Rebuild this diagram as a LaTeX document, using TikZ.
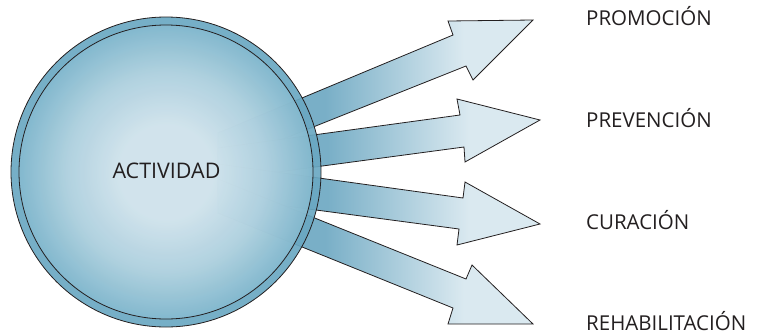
\documentclass[tikz,border=0pt]{standalone}
\usepackage{fontspec}
\setmainfont{Open Sans}
\definecolor{ringblue}{HTML}{6AA8C2}
\definecolor{ballc}{HTML}{E0EDF3}
\definecolor{ballm}{HTML}{BAD7E4}
\definecolor{balle}{HTML}{86BACF}
\definecolor{arrdark}{HTML}{79AFC7}
\definecolor{arrlight}{HTML}{DAE9F0}
\definecolor{txt}{HTML}{231F20}
\pgfdeclareradialshading{ballshade}{\pgfpoint{0bp}{0bp}}{%
  color(0bp)=(ballc); color(8bp)=(ballc); color(17bp)=(ballm); color(25bp)=(balle); color(50bp)=(balle)}
\pgfdeclarehorizontalshading{arrowshade}{100bp}{%
  color(0bp)=(arrdark); color(25bp)=(arrdark); color(42bp)=(arrdark); color(64bp)=(arrlight); color(100bp)=(arrlight)}
\tikzset{
  arrowshape/.style={shading=arrowshade, draw=txt, line width=0.8pt, line join=miter},
  label/.style={anchor=base west, text=txt, font=\fontsize{20.5}{22}\selectfont, inner sep=0pt},
}
\begin{document}
\begin{tikzpicture}[x=1pt,y=-1pt]
\useasboundingbox (0,0) rectangle (758,335);
% arrows (drawn first, partly under the translucent circle)
\path[arrowshape] (218,133) -- (453,35) -- (448,21) -- (533,20) -- (473,80) -- (466,66) -- (218,165) -- cycle;
\path[arrowshape] (218,148) -- (460,115) -- (457,99) -- (540,120) -- (465,162) -- (464,147) -- (218,180) -- cycle;
\path[arrowshape] (218,164) -- (463,198) -- (465,182) -- (540,224) -- (457,245) -- (459,229) -- (218,197) -- cycle;
\path[arrowshape] (218,179) -- (466,279) -- (472,265) -- (533,324) -- (448,324) -- (453,308) -- (218,213) -- cycle;
% circle
\fill[ringblue, fill opacity=0.92] (166,172) circle[radius=155];
\draw[txt, line width=0.8pt] (166,172) circle[radius=155];
\path[shading=ballshade, fill opacity=0.86] (166,172) circle[radius=147];
\node[circle, draw=txt, line width=0.8pt, minimum size=294pt, inner sep=0pt] (act) at (166,172) {};
\node[anchor=base, text=txt, font=\fontsize{21.5}{23}\selectfont, inner sep=0pt] (actlbl) at (166.5,178) {ACTIVIDAD};
% labels
\node[label] (promo) at (586,25) {PROMOCIÓN};
\node[label] (prev) at (586,127) {PREVENCIÓN};
\node[label] (cura) at (586,229) {CURACIÓN};
\node[label] (reha) at (586,330) {REHABILITACIÓN};
\end{tikzpicture}
\end{document}
